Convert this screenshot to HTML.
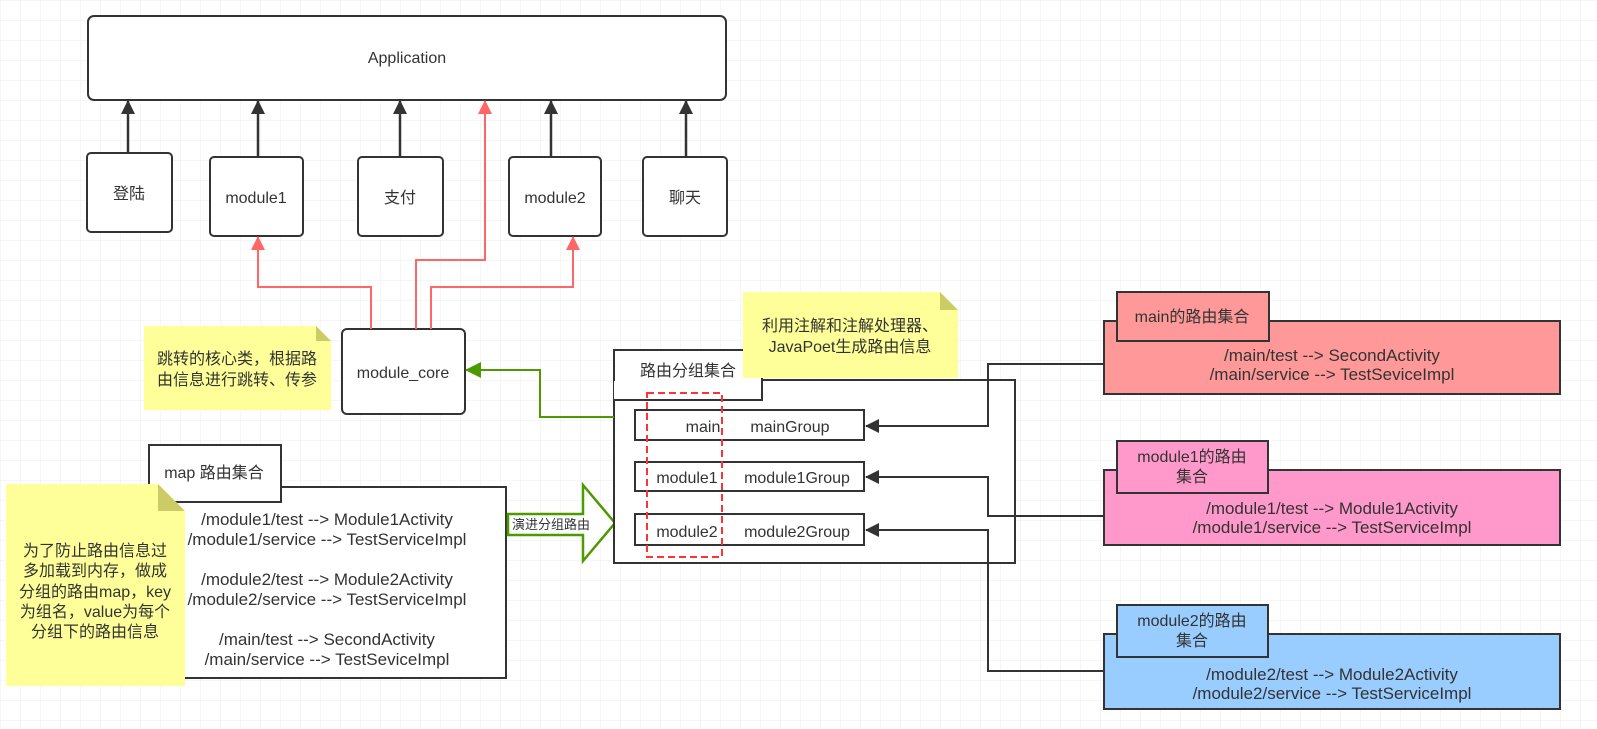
<!DOCTYPE html>
<html><head><meta charset="utf-8"><style>
body{margin:0;background:#fff}
svg{display:block}
text{font-family:"Liberation Sans","Noto Sans CJK SC",sans-serif;font-size:16px;fill:#333;text-anchor:middle}
.b{font-size:17px}
</style></head><body>
<svg width="1597" height="729" viewBox="0 0 1597 729">
<defs>
<pattern id="g" width="20" height="20" patternUnits="userSpaceOnUse"><path d="M20 0H0V20" fill="none" stroke="#ececec" stroke-width="1"/></pattern>
<marker id="ab" markerWidth="14" markerHeight="14" refX="13" refY="7" orient="auto" markerUnits="userSpaceOnUse"><path d="M0 0L14 7L0 14z" fill="#333"/></marker>
<marker id="ar" markerWidth="14" markerHeight="14" refX="13" refY="7" orient="auto" markerUnits="userSpaceOnUse"><path d="M0 0L14 7L0 14z" fill="#f66"/></marker>
<marker id="ag" markerWidth="16" markerHeight="16" refX="15" refY="8" orient="auto" markerUnits="userSpaceOnUse"><path d="M0 0L16 8L0 16z" fill="#4d9900"/></marker>
</defs>
<rect width="1597" height="729" fill="url(#g)"/>
<g fill="#fff" stroke="#333" stroke-width="2">
<rect x="88" y="16" width="638" height="84" rx="6"/>
<rect x="87" y="153" width="85" height="79" rx="4"/>
<rect x="210" y="157" width="93" height="79" rx="4"/>
<rect x="358" y="157" width="85" height="79" rx="4"/>
<rect x="509" y="157" width="92" height="79" rx="4"/>
<rect x="643" y="157" width="84" height="79" rx="4"/>
<rect x="342" y="329" width="123" height="85" rx="5"/>
</g>
<text x="407" y="63">Application</text>
<text x="129" y="199">登陆</text>
<text x="256" y="203">module1</text>
<text x="400" y="203">支付</text>
<text x="555" y="203">module2</text>
<text x="685" y="203">聊天</text>
<text x="403" y="378">module_core</text>
<g stroke="#333" stroke-width="2.5" fill="none" marker-end="url(#ab)">
<path d="M128 153V101"/><path d="M258 157V101"/><path d="M400 157V101"/><path d="M551 157V101"/><path d="M686 157V101"/>
</g>
<g stroke="#f66" stroke-width="2" fill="none" marker-end="url(#ar)">
<path d="M371 329V287H258V237"/>
<path d="M416 329V260H485V101"/>
<path d="M431 329V287H573V237"/>
</g>
<path d="M144 326H316L331 341V410H144z" fill="#ffff99"/><path d="M316 326V341H331z" fill="#cccc66"/>
<text x="237" y="364">跳转的核心类，根据路</text><text x="237" y="385">由信息进行跳转、传参</text>
<g fill="#fff" stroke="#333" stroke-width="2">
<rect x="149" y="487" width="357" height="191"/>
<rect x="149" y="445" width="132" height="57"/>
</g>
<text x="214" y="478">map 路由集合</text>
<text class="b" x="327" y="525">/module1/test --&gt; Module1Activity</text>
<text class="b" x="327" y="545">/module1/service --&gt; TestServiceImpl</text>
<text class="b" x="327" y="585">/module2/test --&gt; Module2Activity</text>
<text class="b" x="327" y="605">/module2/service --&gt; TestServiceImpl</text>
<text class="b" x="327" y="645">/main/test --&gt; SecondActivity</text>
<text class="b" x="327" y="665">/main/service --&gt; TestSeviceImpl</text>
<path d="M6 484H158L185 511V686H6z" fill="#ffff99"/><path d="M158 484V511H185z" fill="#cccc66"/>
<text x="95" y="556">为了防止路由信息过</text><text x="95" y="576">多加载到内存，做成</text><text x="95" y="597">分组的路由map，key</text><text x="95" y="617">为组名，value为每个</text><text x="95" y="637">分组下的路由信息</text>
<path d="M508 514H583V485L615 523L583 561V535H508z" fill="#fff" stroke="#4d9900" stroke-width="2.5"/>
<text x="551" y="529" style="font-size:13px">演进分组路由</text>
<g fill="#fff" stroke="#333" stroke-width="2">
<rect x="614" y="380" width="401" height="183"/>
<rect x="614" y="350" width="148" height="50"/>
<rect x="635" y="410" width="229" height="30"/>
<rect x="635" y="462" width="229" height="29"/>
<rect x="635" y="514" width="229" height="31"/>
</g>
<rect x="614" y="381" width="147" height="18" fill="#fff"/>
<text x="688" y="376">路由分组集合</text>
<text x="703" y="432">main</text><text x="790" y="432">mainGroup</text>
<text x="687" y="483">module1</text><text x="797" y="483">module1Group</text>
<text x="687" y="537">module2</text><text x="797" y="537">module2Group</text>
<rect x="647" y="393" width="75" height="164" fill="none" stroke="#f33" stroke-width="2" stroke-dasharray="7 4"/>
<path d="M614 417H540V370H466" fill="none" stroke="#4d9900" stroke-width="2" marker-end="url(#ag)"/>
<path d="M743 292H940L958 310V378H743z" fill="#ffff99"/><path d="M940 292V310H958z" fill="#cccc66"/>
<text x="850" y="331">利用注解和注解处理器、</text><text x="850" y="352">JavaPoet生成路由信息</text>
<g stroke="#333" stroke-width="2">
<rect x="1104" y="321" width="456" height="73" fill="#ff9999"/>
<rect x="1117" y="292" width="152" height="49" fill="#ff9999"/>
<rect x="1104" y="470" width="456" height="75" fill="#ff99cc"/>
<rect x="1117" y="441" width="151" height="52" fill="#ff99cc"/>
<rect x="1104" y="634" width="456" height="75" fill="#99ccff"/>
<rect x="1117" y="605" width="151" height="52" fill="#99ccff"/>
</g>
<text x="1192" y="322">main的路由集合</text>
<text class="b" x="1332" y="361">/main/test --&gt; SecondActivity</text>
<text class="b" x="1332" y="380">/main/service --&gt; TestSeviceImpl</text>
<text x="1192" y="462">module1的路由</text><text x="1192" y="482">集合</text>
<text class="b" x="1332" y="514">/module1/test --&gt; Module1Activity</text>
<text class="b" x="1332" y="533">/module1/service --&gt; TestServiceImpl</text>
<text x="1192" y="626">module2的路由</text><text x="1192" y="646">集合</text>
<text class="b" x="1332" y="680">/module2/test --&gt; Module2Activity</text>
<text class="b" x="1332" y="699">/module2/service --&gt; TestServiceImpl</text>
<g stroke="#333" stroke-width="2" fill="none" marker-end="url(#ab)">
<path d="M1104 364H988V426H866"/>
<path d="M1104 516H988V477H866"/>
<path d="M1104 671H988V530H866"/>
</g>
</svg>
</body></html>
